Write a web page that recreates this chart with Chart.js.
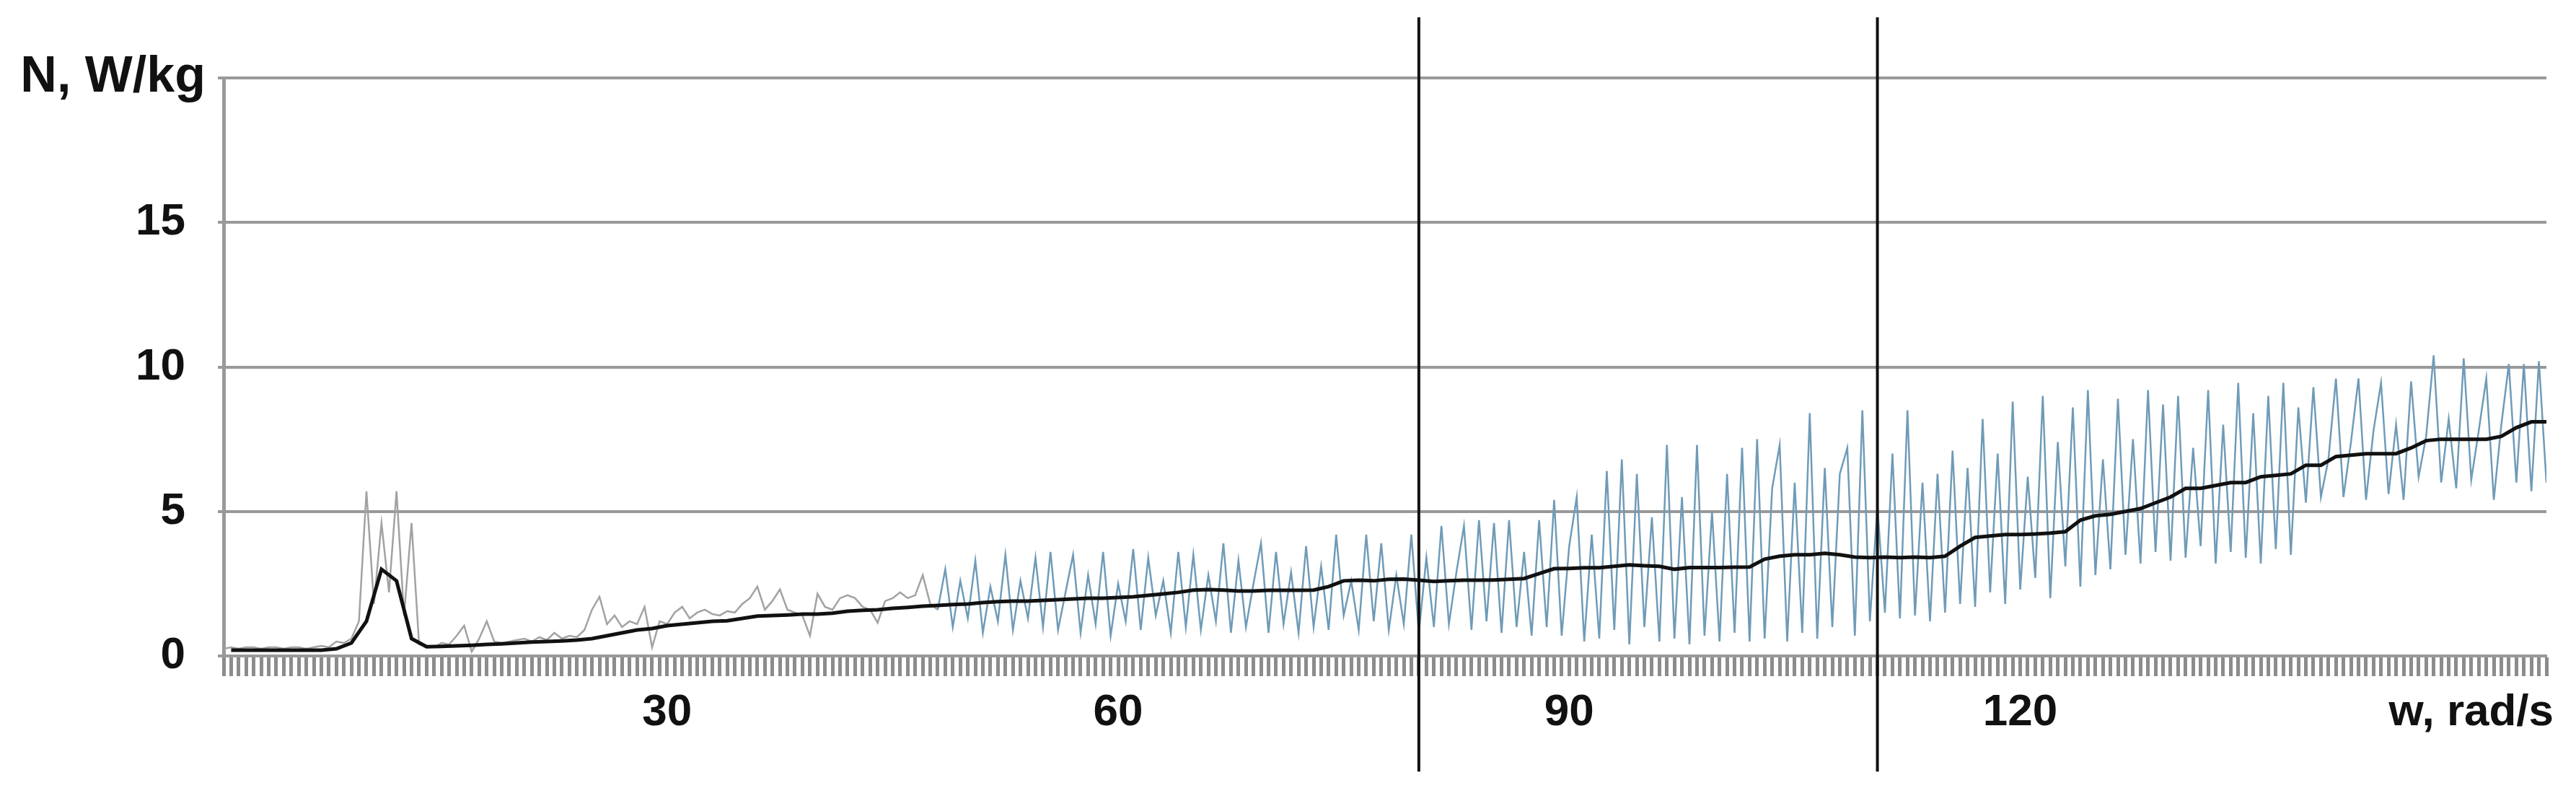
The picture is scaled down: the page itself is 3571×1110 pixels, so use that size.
<!DOCTYPE html>
<html>
<head>
<meta charset="utf-8">
<title>N vs w</title>
<script src="https://cdn.jsdelivr.net/npm/chart.js@4.4.1/dist/chart.umd.min.js"></script>
<style>
  html, body { margin: 0; padding: 0; background: #fff; }
  #chart { display: block; }
</style>
</head>
<body>
<canvas id="chart" width="3571" height="1110"></canvas>
<script>
// -------------------- Data --------------------
// raw power signal, one value every 0.5 rad/s starting at w = 0.5
const RAW_START = 0.5;
const RAW_STEP = 0.5;
const rawN = [
  0.25,0.3,0.25,0.3,0.3,0.25,0.3,0.3,0.25,0.3,
  0.3,0.25,0.3,0.35,0.3,0.5,0.45,0.6,1.2,5.7,
  1.8,4.6,2.2,5.7,1.4,4.6,0.4,0.35,0.3,0.45,
  0.4,0.7,1.05,0.15,0.6,1.2,0.5,0.45,0.5,0.55,
  0.6,0.5,0.65,0.55,0.8,0.6,0.7,0.65,0.9,1.6,
  2.05,1.1,1.4,1.0,1.2,1.1,1.7,0.3,1.2,1.1,
  1.5,1.7,1.3,1.5,1.6,1.45,1.4,1.55,1.5,1.8,
  2.0,2.4,1.6,1.9,2.3,1.6,1.5,1.4,0.7,2.15,
  1.7,1.6,2.0,2.1,2.0,1.7,1.6,1.15,1.9,2.0,
  2.2,2.0,2.1,2.8,1.8,1.6,3.0,1.0,2.6,1.3,
  3.3,0.8,2.4,1.2,3.5,0.9,2.6,1.3,3.4,1.0,
  3.6,0.9,2.2,3.5,0.8,2.8,1.1,3.6,0.7,2.5,
  1.2,3.7,0.9,3.4,1.4,2.6,0.8,3.6,1.0,3.5,
  0.9,2.8,1.2,3.9,0.8,3.3,1.0,2.5,3.9,0.8,
  3.6,1.1,2.9,0.8,3.8,1.0,3.1,0.9,4.2,1.4,
  2.6,0.9,4.2,1.2,3.9,0.9,2.8,1.1,4.2,0.8,
  3.4,1.0,4.5,1.1,2.9,4.5,0.9,4.7,1.2,4.6,
  0.8,4.7,1.0,3.6,0.7,4.7,1.0,5.4,0.7,3.8,
  5.5,0.5,4.2,0.6,6.4,0.9,6.8,0.4,6.3,1.0,
  4.8,0.5,7.3,0.6,5.5,0.4,7.3,0.7,5.0,0.5,
  6.3,0.8,7.2,0.5,7.5,0.6,5.8,7.3,0.5,6.0,
  0.8,8.4,0.6,6.5,1.0,6.3,7.2,0.7,8.5,1.2,
  5.2,1.5,7.0,1.3,8.5,1.4,6.0,1.2,6.3,1.5,
  7.1,1.8,6.5,1.7,8.2,2.2,7.0,1.8,8.8,2.3,
  6.2,2.7,9.0,2.0,7.4,3.1,8.6,2.4,9.2,2.8,
  6.8,3.0,8.9,3.5,7.5,3.2,9.2,3.6,8.7,3.3,
  9.0,3.4,7.2,3.8,9.2,3.2,8.0,3.6,9.45,3.4,
  8.4,3.2,9.0,3.7,9.45,3.5,8.6,5.3,9.3,5.5,
  6.8,9.6,5.5,7.4,9.6,5.4,7.8,9.45,5.6,8.0,
  5.4,9.5,6.2,7.6,10.4,6.0,8.2,5.8,10.3,6.1,
  7.8,9.6,5.4,8.0,10.1,6.0,10.1,5.7,10.2,6.0
];

// averaged power, one value every 1 rad/s starting at w = 1
const MEAN_START = 1;
const MEAN_STEP = 1;
const meanN = [
  0.2,0.2,0.2,0.2,0.2,0.2,0.2,0.25,0.45,1.2,
  3.0,2.6,0.6,0.32,0.33,0.35,0.37,0.4,0.42,0.45,
  0.48,0.5,0.52,0.55,0.6,0.7,0.8,0.9,0.95,1.05,
  1.1,1.15,1.2,1.22,1.3,1.38,1.4,1.42,1.45,1.45,
  1.48,1.55,1.58,1.6,1.65,1.68,1.72,1.75,1.78,1.8,
  1.85,1.88,1.9,1.9,1.92,1.95,1.97,2.0,2.0,2.02,
  2.05,2.1,2.15,2.2,2.28,2.3,2.28,2.25,2.25,2.27,
  2.27,2.27,2.28,2.4,2.6,2.62,2.6,2.65,2.66,2.62,
  2.58,2.6,2.62,2.62,2.63,2.65,2.68,2.85,3.02,3.03,
  3.05,3.05,3.1,3.15,3.12,3.1,3.0,3.06,3.06,3.06,
  3.07,3.08,3.35,3.45,3.5,3.5,3.55,3.5,3.42,3.4,
  3.42,3.4,3.42,3.4,3.45,3.8,4.1,4.15,4.2,4.2,
  4.22,4.25,4.3,4.7,4.85,4.9,5.0,5.1,5.3,5.5,
  5.8,5.8,5.9,6.0,6.0,6.2,6.25,6.3,6.6,6.6,
  6.9,6.95,7.0,7.0,7.0,7.2,7.45,7.5,7.5,7.5,
  7.5,7.6,7.9,8.1,8.1
];

// vertical marker lines (w, rad/s) and their vertical span
const markerW = [80, 110.5];
const markerSpan = [-4, 22.1];

// axes
const xMin = 0.5, xMax = 155, xStep = 0.5;
const xLabels = [30, 60, 90, 120];
const xTitleAt = 150;
const yMin = 0, yMax = 20, yStep = 5;
const yTitleAt = 20;
const xTitle = 'w, rad/s';
const yTitle = 'N, W/kg';

// gray part of the raw curve before the blue spiky part starts
const GRAY_UNTIL = 48;

// -------------------- Build datasets --------------------
const rawPoints = rawN.map((y, i) => ({x: RAW_START + i * RAW_STEP, y}));
const meanPoints = meanN.map((y, i) => ({x: MEAN_START + i * MEAN_STEP, y}));

const markerSets = markerW.map(w => ({
  label: 'w = ' + w,
  data: markerSpan.map(y => ({x: w, y})),
  borderColor: '#111',
  borderWidth: 4,
  pointRadius: 0,
  clip: false,
  order: 0
}));

const gridGray = '#999999';
const fontFamily = "'Liberation Sans', Arial, sans-serif";
const tickFont = { family: fontFamily, size: 62, weight: 'bold' };

// y axis title sits where the "20" label would be, a bit bigger than the ticks
const yTitlePlugin = {
  id: 'yTitle',
  afterDraw(chart){
    const c = chart.ctx;
    const y = chart.scales.y.getPixelForValue(yTitleAt);
    c.save();
    c.font = `bold 70px ${fontFamily}`;
    c.fillStyle = '#111';
    c.textAlign = 'right';
    c.textBaseline = 'middle';
    c.fillText(yTitle, chart.chartArea.left - 25, y);
    c.restore();
  }
};

const ctx = document.getElementById('chart').getContext('2d');
new Chart(ctx, {
  type: 'line',
  data: {
    datasets: [
      {
        label: 'N',
        data: rawPoints,
        borderColor: '#6f9bb8',
        borderWidth: 2.5,
        pointRadius: 0,
        tension: 0,
        order: 2,
        segment: {
          borderColor: c => c.p0.parsed.x < GRAY_UNTIL ? '#a2a2a2' : '#6f9bb8'
        }
      },
      {
        label: 'N mean',
        data: meanPoints,
        borderColor: '#111',
        borderWidth: 5,
        pointRadius: 0,
        tension: 0,
        order: 1
      },
      ...markerSets
    ]
  },
  options: {
    responsive: false,
    animation: false,
    devicePixelRatio: 1,
    layout: { padding: { left: 0, top: 108, right: 41, bottom: 0 } },
    plugins: { legend: { display: false }, tooltip: { enabled: false } },
    scales: {
      x: {
        type: 'linear',
        min: xMin,
        max: xMax,
        afterFit: s => { s.height = 201; },
        grid: {
          drawOnChartArea: false,
          drawTicks: true,
          tickLength: 28,
          tickWidth: 5,
          tickColor: '#8c8c8c'
        },
        border: { display: true, color: gridGray, width: 4 },
        ticks: {
          stepSize: xStep,
          autoSkip: false,
          maxRotation: 0,
          minRotation: 0,
          padding: 14,
          color: '#111',
          font: tickFont,
          callback: v => {
            if (v === xTitleAt) return xTitle;
            return xLabels.includes(v) ? String(v) : '';
          }
        }
      },
      y: {
        min: yMin,
        max: yMax,
        afterFit: s => { s.width = 310; },
        grid: {
          color: gridGray,
          lineWidth: 4,
          drawTicks: true,
          tickLength: 8
        },
        border: { display: true, color: gridGray, width: 5 },
        ticks: {
          stepSize: yStep,
          padding: 45,
          color: '#111',
          font: tickFont,
          callback: v => v === yTitleAt ? '' : String(v)
        }
      }
    }
  },
  plugins: [yTitlePlugin]
});
</script>
</body>
</html>
